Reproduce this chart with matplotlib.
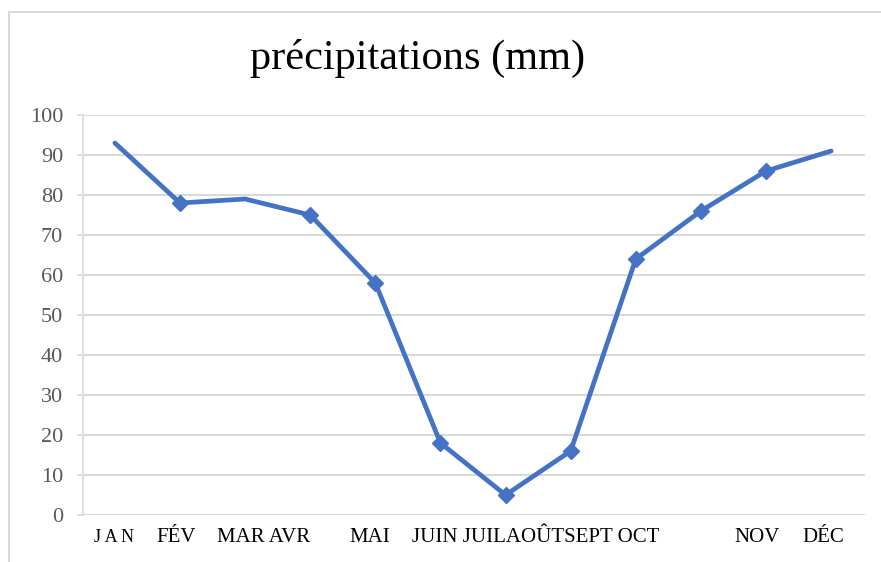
import matplotlib.pyplot as plt
from matplotlib.patches import Rectangle

# précipitations mensuelles (mm)
mois = ['JAN', 'FÉV', 'MAR', 'AVR', 'MAI', 'JUIN', 'JUIL', 'AOÛT', 'SEPT', 'OCT', 'NOV', 'DÉC']
precip = [93, 78, 79, 75, 58, 18, 5, 16, 64, 76, 86, 91]

# étiquettes telles qu'elles apparaissent sous l'axe
etiquettes = ['J A N', 'FÉV', 'MAR AVR', 'MAI', 'JUIN JUILAOÛTSEPT OCT', 'NOV', 'DÉC']
pos_etiq = [-0.015, 0.94, 2.29, 3.91, 6.47, 9.86, 10.88]
taille_etiq = [13, 15, 15, 15, 15, 15, 15]

plt.rcParams['font.family'] = ['Liberation Serif', 'DejaVu Serif']

fig = plt.figure(figsize=(8.81, 5.62), dpi=100)
ax = fig.add_axes([83 / 881, 1 - 515 / 562, (865 - 83) / 881, 400 / 562])

x = list(range(len(mois)))
ax.plot(x, precip, color='#4472C4', linewidth=3.4, solid_capstyle='round',
        marker='D', markersize=8.5, markevery=[1, 3, 4, 5, 6, 7, 8, 9, 10])

ax.set_xlim(-0.49, 11.52)
ax.set_ylim(0, 100)
ax.set_yticks(range(0, 101, 10))
ax.tick_params(axis='y', labelsize=16, labelcolor='#595959', color='#d9d9d9',
               length=4.3, width=1.2, pad=10)
ax.set_xticks([])
ax.grid(axis='y', color='#d9d9d9', linewidth=1.5)
ax.set_axisbelow(True)
for s in ['top', 'right', 'bottom']:
    ax.spines[s].set_visible(False)
ax.spines['left'].set_color('#d9d9d9')
ax.spines['left'].set_linewidth(1.2)

for lab, p, t in zip(etiquettes, pos_etiq, taille_etiq):
    ax.text(p, -0.0575, lab, transform=ax.get_xaxis_transform(),
            ha='center', va='center', fontsize=t, color='black')

fig.text(0.474, 0.896, 'précipitations (mm)', ha='center', va='center',
         fontsize=30.5, color='black')

fig.patches.append(Rectangle((9 / 881, -0.1), 2, 1 - 12 / 562 + 0.1,
                             transform=fig.transFigure, fill=False,
                             edgecolor='#d9d9d9', linewidth=1.5))

fig.savefig('out.png', dpi=100)
